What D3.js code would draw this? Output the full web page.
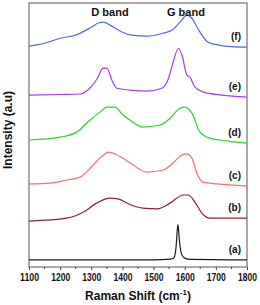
<!DOCTYPE html>
<html>
<head>
<meta charset="utf-8">
<script src="https://cdn.jsdelivr.net/npm/d3@7"></script>
<style>
body { margin: 0; background: #fff; }
svg { display: block; }
text { font-family: Arial, "Liberation Sans", sans-serif; font-weight: bold; fill: #111; }
</style>
</head>
<body>
<div id="chart"></div>
<script>
// Raman spectra, intensity in a.u. (already stacked as plotted)
var shiftTicks = [1100, 1200, 1300, 1400, 1500, 1600, 1700, 1800];
var seriesNames = ["(a)", "(b)", "(c)", "(d)", "(e)", "(f)"];
var seriesColors = ["#1a1a1a", "#8e1f33", "#ff6a72", "#2fd12f", "#a23cf2", "#4f68ee"];

var specA = [[1100,2.3],[1500,2.3],[1555,2.6],[1565,3.1],[1570,5.0],[1573,8.3],[1576,13.4],[1578,15.6],
  [1580,14.2],[1583,9.6],[1587,5.9],[1592,4.0],[1600,3.0],[1620,2.5],[1800,2.3]];
var specB = [[1100,17.1],[1221,18.2],[1275,20.5],[1317,23.9],[1360,25.8],[1386,25.5],[1424,23.4],
  [1466,22.0],[1511,21.7],[1553,23.9],[1595,27.0],[1611,27.0],[1633,24.3],[1655,20.1],[1681,18.2],[1800,18.2]];
var specC = [[1100,31.2],[1168,31.5],[1221,32.7],[1264,33.8],[1306,38.4],[1339,42.2],[1355,43.3],
  [1376,42.6],[1402,41.0],[1424,39.3],[1478,35.7],[1530,36.5],[1562,39.1],[1591,42.2],[1607,42.6],
  [1623,41.0],[1639,35.3],[1659,31.9],[1704,31.2],[1800,30.4]];
var specD = [[1100,47.9],[1200,49.0],[1253,50.9],[1296,55.5],[1328,58.5],[1350,60.4],[1376,60.4],
  [1402,57.4],[1424,55.5],[1466,52.8],[1521,53.6],[1553,56.2],[1585,60.0],[1601,60.4],[1623,58.1],
  [1649,50.9],[1681,48.6],[1740,47.5],[1800,46.7]];
var specE = [[1100,65.0],[1200,65.2],[1265,65.4],[1295,67.6],[1320,71.4],[1338,75.2],[1350,75.2],
  [1366,70.7],[1382,67.6],[1424,66.9],[1478,66.5],[1527,67.6],[1546,70.7],[1562,77.1],[1580,82.8],
  [1591,80.2],[1607,72.6],[1617,71.8],[1633,68.0],[1660,66.1],[1720,65.0],[1800,64.2]];
var specF = [[1100,83.6],[1150,84.7],[1200,86.6],[1250,87.8],[1300,90.8],[1325,92.5],[1340,92.7],
  [1360,91.6],[1400,88.9],[1430,87.8],[1480,87.4],[1530,88.5],[1560,89.7],[1585,92.7],[1607,95.4],
  [1623,94.2],[1645,89.7],[1675,85.1],[1710,84.0],[1750,83.4],[1800,83.2]];
var spectra = [specA, specB, specC, specD, specE, specF];

var bandNames = ["D band", "G band"];
var bandShifts = [1360, 1604];

var W = 260, H = 305;
var margin = {left: 29, right: 13, top: 3, bottom: 38};
var pw = W - margin.left - margin.right;
var ph = H - margin.top - margin.bottom;

var svg = d3.select("#chart").append("svg")
    .attr("width", W)
    .attr("height", H);
var g = svg.append("g").attr("transform", "translate(" + margin.left + "," + margin.top + ")");

var x = d3.scaleLinear().domain([1100, 1800]).range([0, pw]);
var y = d3.scaleLinear().domain([0, 100]).range([ph - 1, 0]);

// bottom axis, major + minor ticks outside
var minor = d3.range(1150, 1800, 100);
g.append("g")
    .attr("transform", "translate(0," + ph + ")")
    .selectAll("line.minor")
    .data(minor)
    .enter().append("line")
    .attr("x1", function(d) { return x(d); })
    .attr("x2", function(d) { return x(d); })
    .attr("y1", 0).attr("y2", 2)
    .style("stroke", "#444");

var xAxis = g.append("g")
    .attr("transform", "translate(0," + ph + ")")
    .call(d3.axisBottom(x).tickValues(shiftTicks).tickSize(3).tickPadding(4).tickFormat(d3.format("d")));
xAxis.select(".domain").remove();
xAxis.selectAll("line").style("stroke", "#444");
xAxis.selectAll("text")
    .style("font-size", "10.5px")
    .style("font-family", "Arial, 'Liberation Sans', sans-serif")
    .style("font-weight", "bold")
    .attr("fill", "#000")
    .attr("textLength", 19)
    .attr("lengthAdjust", "spacingAndGlyphs");

// frame
g.append("rect")
    .attr("x", 0).attr("y", 0)
    .attr("width", pw).attr("height", ph)
    .style("fill", "none")
    .style("stroke", "#555")
    .style("stroke-width", 1);

// spectra
var line = d3.line()
    .x(function(d) { return x(d[0]); })
    .y(function(d) { return y(d[1]); })
    .curve(d3.curveMonotoneX);

g.selectAll("path.spec")
    .data(spectra)
    .enter().append("path")
    .attr("class", "spec")
    .attr("d", line)
    .style("fill", "none")
    .style("stroke", function(d, i) { return seriesColors[i]; })
    .style("stroke-width", 1.2);

// series labels
g.selectAll("text.lab")
    .data(spectra)
    .enter().append("text")
    .attr("class", "lab")
    .attr("x", pw - 6)
    .attr("y", function(d) { return y(d[d.length - 1][1]) - 7; })
    .style("text-anchor", "end")
    .style("font-size", "10px")
    .text(function(d, i) { return seriesNames[i]; });

// band labels
g.selectAll("text.band")
    .data(bandNames)
    .enter().append("text")
    .attr("class", "band")
    .attr("x", function(d, i) { return x(bandShifts[i]); })
    .attr("y", 13)
    .style("text-anchor", "middle")
    .style("font-size", "11px")
    .text(function(d) { return d; });

// axis titles
var xt = svg.append("text")
    .attr("x", margin.left + pw / 2)
    .attr("y", 300)
    .style("text-anchor", "middle")
    .style("font-size", "12px");
xt.append("tspan").text("Raman Shift (cm");
xt.append("tspan").attr("dy", -5).style("font-size", "8px").text("-1");
xt.append("tspan").attr("dy", 5).text(")");

svg.append("text")
    .attr("transform", "translate(12," + (margin.top + 127) + ") rotate(-90)")
    .style("text-anchor", "middle")
    .style("font-size", "12px")
    .text("Intensity (a.u)");
</script>
</body>
</html>
